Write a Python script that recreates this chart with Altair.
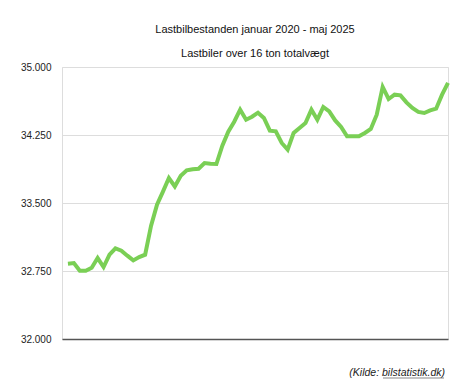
import altair as alt
import pandas as pd

months = pd.date_range("2020-01-01", periods=65, freq="MS").strftime("%Y-%m").tolist()
values = [
    32831, 32838, 32753, 32753, 32786, 32893, 32794, 32930, 32999, 32974,
    32919, 32867, 32904, 32930, 33250, 33482, 33625, 33776, 33683, 33800,
    33860, 33873, 33878, 33941, 33934, 33930, 34132, 34287, 34397, 34529,
    34419, 34452, 34496, 34438, 34298, 34290, 34162, 34088, 34272, 34327,
    34382, 34529, 34419, 34559, 34510, 34411, 34338, 34235, 34235, 34235,
    34272, 34316, 34474, 34780, 34647, 34695, 34687, 34610, 34548, 34504,
    34493, 34521, 34540, 34695, 34824,
]
y_ticks = [32000, 32750, 33500, 34250, 35000]

df = pd.DataFrame({"idx": list(range(len(values))), "month": months, "value": values})

FONT = "Liberation Sans"

line = alt.Chart(df).mark_line(color="#7ACF55", strokeWidth=4, strokeJoin="miter").encode(
    x=alt.X("idx:Q", scale=alt.Scale(domain=[-1, len(values) - 1], nice=False, zero=False),
            axis=alt.Axis(labels=False, ticks=False, title=None, grid=False,
                          domainColor="#555555", domainWidth=1.5)),
    y=alt.Y("value:Q", scale=alt.Scale(domain=[32000, 35000], nice=False, zero=False),
            axis=alt.Axis(values=y_ticks, title=None, ticks=False, domain=False,
                          gridColor="#dddddd", gridWidth=1, labelPadding=11,
                          labelFont=FONT, labelFontSize=10, labelColor="#222222",
                          labelExpr="replace(format(datum.value, ',d'), ',', '.')")),
)

source = alt.Chart().mark_text(
    text="(Kilde: bilstatistik.dk)", align="right", baseline="middle",
    font=FONT, fontSize=10.5, fontStyle="italic", color="#222222",
).encode(x=alt.value(383), y=alt.value(306))

underline = alt.Chart().mark_rule(color="#555555", strokeWidth=0.7).encode(
    x=alt.value(321), x2=alt.value(382), y=alt.value(311)
)

chart = alt.layer(line, source, underline).properties(
    width=386,
    height=272,
    padding={"left": 54, "top": 59, "right": 10, "bottom": 50},
    autosize=alt.AutoSizeParams(type="none"),
    title=alt.TitleParams(
        text="Lastbilbestanden januar 2020 - maj 2025",
        subtitle="Lastbiler over 16 ton totalvægt",
        anchor="middle", font=FONT, fontSize=11, fontWeight="normal", color="#111111",
        subtitleFont=FONT, subtitleFontSize=11, subtitleColor="#111111",
        subtitlePadding=13, offset=3,
    ),
).configure_view(stroke=None).configure(background="white")

chart.save("out.html", embed_options={"renderer": "svg", "actions": False})
